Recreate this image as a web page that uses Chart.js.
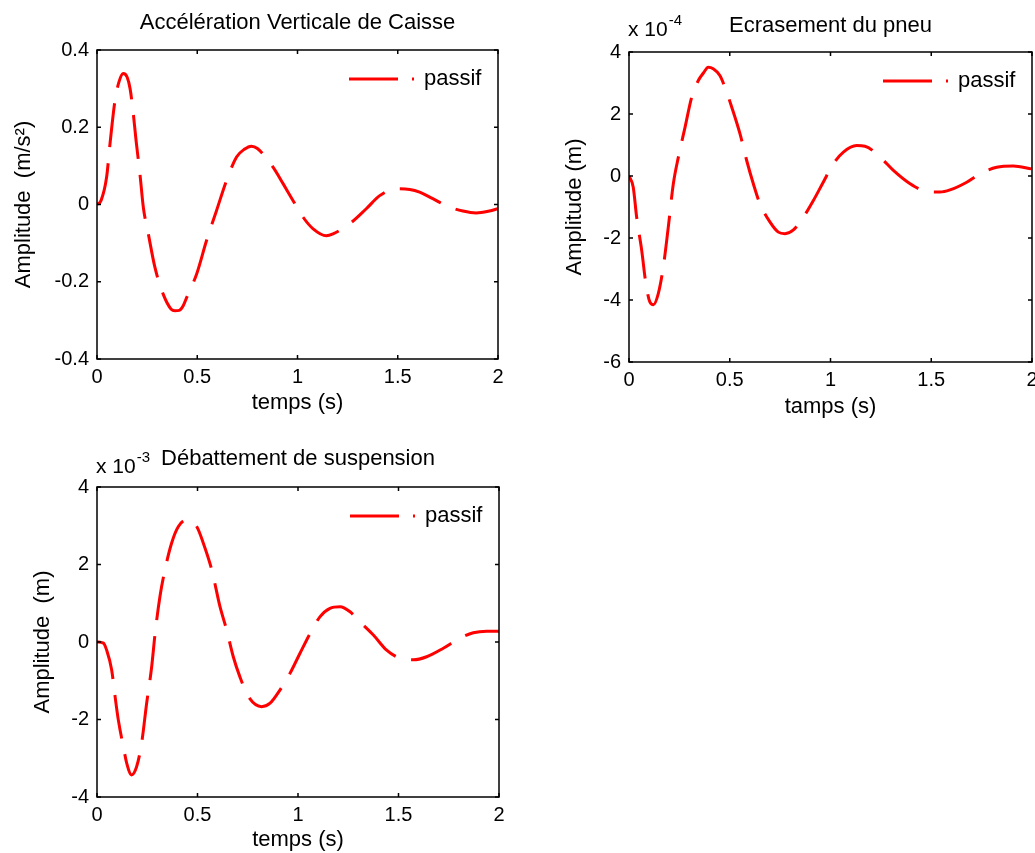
<!DOCTYPE html>
<html>
<head>
<meta charset="utf-8">
<script src="https://cdn.jsdelivr.net/npm/chart.js@4.4.1/dist/chart.umd.min.js"></script>
<style>
  body { margin: 0; background: #fff; }
  .wrap { position: relative; width: 1035px; height: 853px; overflow: hidden; }
  canvas { position: absolute; }
</style>
</head>
<body>
<div class="wrap">
  <canvas id="accel" width="520" height="425" style="left:0;top:0"></canvas>
  <canvas id="pneu" width="495" height="425" style="left:540px;top:0"></canvas>
  <canvas id="susp" width="520" height="423" style="left:0;top:430px"></canvas>
</div>
<script>
// graduations
const xTicks = [0, 0.5, 1, 1.5, 2];
const yTicksAccel = [-0.4, -0.2, 0, 0.2, 0.4];
const yTicksPneu = [-6, -4, -2, 0, 2, 4];
const yTicksSusp = [-4, -2, 0, 2, 4];

// accélération verticale de caisse (m/s2)
const tAccel = [0, 0.02, 0.048, 0.065, 0.09, 0.11, 0.131, 0.15, 0.165, 0.18, 0.195, 0.214, 0.231, 0.256, 0.289, 0.33, 0.37, 0.389, 0.41, 0.43, 0.447,
  0.497, 0.546, 0.596, 0.646, 0.696, 0.735, 0.77, 0.8, 0.878, 0.928, 0.978, 1.028, 1.078, 1.144, 1.177, 1.26, 1.343, 1.41, 1.493, 1.56,
  1.609, 1.675, 1.75, 1.825, 1.891, 1.957, 2.0];
const accel = [0, 0.01, 0.071, 0.158, 0.27, 0.318, 0.339, 0.33, 0.30, 0.24, 0.165, 0.08, -0.007, -0.076, -0.163, -0.232, -0.271, -0.275, -0.274, -0.262, -0.241,
  -0.18, -0.094, -0.016, 0.062, 0.123, 0.143, 0.151, 0.145, 0.097, 0.054, 0.010, -0.033, -0.063, -0.081, -0.076, -0.05, -0.011, 0.023, 0.041, 0.039,
  0.032, 0.015, -0.005, -0.017, -0.022, -0.017, -0.011];

// écrasement du pneu (x 1e-4 m)
const tPneu = [0, 0.021, 0.038, 0.063, 0.084, 0.104, 0.121, 0.145, 0.17, 0.195, 0.22, 0.245, 0.278, 0.311, 0.344, 0.37, 0.393, 0.418, 0.451, 0.476, 0.51,
  0.551, 0.584, 0.617, 0.65, 0.7, 0.741, 0.774, 0.816, 0.865, 0.915, 0.964, 1.014, 1.064, 1.13, 1.171, 1.246, 1.312, 1.395, 1.477, 1.543,
  1.593, 1.676, 1.742, 1.825, 1.907, 1.998];
const pneu = [0, -0.36, -1.33, -2.40, -3.48, -4.07, -4.15, -3.80, -2.94, -1.65, -0.25, 0.61, 1.57, 2.54, 3.08, 3.33, 3.51, 3.46, 3.24, 2.86, 2.22,
  1.36, 0.50, -0.25, -0.90, -1.49, -1.81, -1.86, -1.74, -1.33, -0.79, -0.20, 0.39, 0.77, 0.98, 0.96, 0.61, 0.18, -0.25, -0.50, -0.52,
  -0.45, -0.20, 0.07, 0.28, 0.32, 0.23];

// débattement de suspension (x 1e-3 m)
const tSusp = [0, 0.032, 0.048, 0.073, 0.09, 0.106, 0.131, 0.148, 0.172, 0.197, 0.222, 0.247, 0.272, 0.289, 0.313, 0.338, 0.371, 0.405, 0.446, 0.496,
  0.529, 0.571, 0.612, 0.645, 0.678, 0.711, 0.753, 0.819, 0.861, 0.91, 0.96, 1.01, 1.06, 1.109, 1.159, 1.209, 1.259, 1.308, 1.375, 1.441,
  1.507, 1.574, 1.64, 1.723, 1.806, 1.872, 1.939, 2.0];
const susp = [0, -0.03, -0.21, -0.72, -1.41, -2.01, -2.7, -3.13, -3.43, -3.22, -2.61, -1.58, -0.64, 0.22, 1.17, 1.86, 2.55, 2.98, 3.15, 2.98,
  2.55, 1.86, 0.91, 0.31, -0.38, -0.9, -1.41, -1.67, -1.58, -1.24, -0.81, -0.29, 0.22, 0.65, 0.87, 0.91, 0.78, 0.52, 0.18, -0.21,
  -0.42, -0.46, -0.38, -0.16, 0.1, 0.24, 0.28, 0.28];

const FONT = "'Liberation Sans', Arial, sans-serif";
Chart.defaults.font.family = FONT;
Chart.defaults.font.size = 20;
Chart.defaults.color = '#000';

// cadre, graduations internes, titre, exposant et légende (style matlab)
const frame = {
  id: 'frame',
  afterDraw(chart, args, opts) {
    const { ctx, chartArea: a, scales: { x, y } } = chart;
    ctx.save();
    ctx.strokeStyle = '#000';
    ctx.lineWidth = 1.5;
    ctx.setLineDash([]);
    ctx.strokeRect(a.left, a.top, a.right - a.left, a.bottom - a.top);
    ctx.beginPath();
    x.ticks.forEach(t => {
      const px = x.getPixelForValue(t.value);
      ctx.moveTo(px, a.bottom); ctx.lineTo(px, a.bottom - 4);
      ctx.moveTo(px, a.top); ctx.lineTo(px, a.top + 4);
    });
    y.ticks.forEach(t => {
      const py = y.getPixelForValue(t.value);
      ctx.moveTo(a.left, py); ctx.lineTo(a.left + 4, py);
      ctx.moveTo(a.right, py); ctx.lineTo(a.right - 4, py);
    });
    ctx.stroke();

    ctx.fillStyle = '#000';
    ctx.font = '22px ' + FONT;
    ctx.textAlign = 'center';
    ctx.textBaseline = 'alphabetic';
    ctx.fillText(opts.title, (a.left + a.right) / 2, a.top - opts.titleGap);

    if (opts.expo) {
      ctx.textAlign = 'left';
      const ex = a.left - 1, ey = a.top - opts.expoGap;
      ctx.font = '21px ' + FONT;
      ctx.fillText('x 10', ex, ey);
      const w = ctx.measureText('x 10').width;
      ctx.font = '15px ' + FONT;
      ctx.fillText(opts.expo, ex + w + 1, ey - 11);
    }

    // légende : tiret long + point, sans cadre
    const ds = chart.data.datasets[0];
    const ly = a.top + 29;
    ctx.strokeStyle = ds.borderColor;
    ctx.lineWidth = ds.borderWidth;
    ctx.setLineDash([49, 14, 2, 14]);
    ctx.beginPath();
    ctx.moveTo(a.right - 149, ly);
    ctx.lineTo(a.right - 83, ly);
    ctx.stroke();
    ctx.font = '22px ' + FONT;
    ctx.textAlign = 'left';
    ctx.textBaseline = 'middle';
    ctx.fillText(ds.label, a.right - 74, ly);
    ctx.restore();
  }
};

function makeChart(id, times, values, cfg) {
  const points = times.map((t, i) => ({ x: t, y: values[i] }));
  return new Chart(document.getElementById(id), {
    type: 'line',
    data: {
      datasets: [{
        label: 'passif',
        data: points,
        borderColor: '#ff0000',
        borderWidth: 3,
        borderDash: [44, 16],
        pointRadius: 0,
        cubicInterpolationMode: 'monotone'
      }]
    },
    plugins: [frame],
    options: {
      responsive: false,
      animation: false,
      layout: { padding: { top: cfg.top, right: cfg.right, left: 0, bottom: 0 } },
      plugins: {
        legend: { display: false },
        tooltip: { enabled: false },
        frame: { title: cfg.title, titleGap: cfg.titleGap, expo: cfg.expo, expoGap: cfg.expoGap }
      },
      scales: {
        x: {
          type: 'linear', min: 0, max: 2,
          grid: { display: false, drawTicks: false },
          border: { display: false },
          afterBuildTicks: s => { s.ticks = xTicks.map(v => ({ value: v })); },
          afterFit: s => { s.height = cfg.xh; s.paddingLeft = 0; s.paddingRight = 0; },
          ticks: { padding: 6, maxRotation: 0, callback: v => String(v) },
          title: { display: true, text: cfg.xlabel, font: { size: 22 }, padding: { top: 0, bottom: cfg.xpad } }
        },
        y: {
          type: 'linear', min: cfg.yTicks[0], max: cfg.yTicks[cfg.yTicks.length - 1],
          grid: { display: false, drawTicks: false },
          border: { display: false },
          afterBuildTicks: s => { s.ticks = cfg.yTicks.map(v => ({ value: v })); },
          afterFit: s => { s.width = cfg.yw; s.paddingTop = 0; s.paddingBottom = 0; },
          ticks: { padding: 8, callback: v => String(v) },
          title: { display: true, text: cfg.ylabel, font: { size: 22 }, padding: { top: cfg.ypad, bottom: 0 } }
        }
      }
    }
  });
}

makeChart('accel', tAccel, accel, {
  title: 'Accélération Verticale de Caisse', titleGap: 21,
  xlabel: 'temps (s)', ylabel: 'Amplitude  (m/s²)', yTicks: yTicksAccel,
  top: 50, right: 22, yw: 97, xh: 66, xpad: 9, ypad: 11
});
makeChart('pneu', tPneu, pneu, {
  title: 'Ecrasement du pneu', titleGap: 20, expo: '-4', expoGap: 16,
  xlabel: 'tamps (s)', ylabel: 'Amplitude (m)', yTicks: yTicksPneu,
  top: 52, right: 3, yw: 89, xh: 63, xpad: 5, ypad: 22
});
makeChart('susp', tSusp, susp, {
  title: 'Débattement de suspension', titleGap: 22, expo: '-3', expoGap: 14,
  xlabel: 'temps (s)', ylabel: 'Amplitude  (m)', yTicks: yTicksSusp,
  top: 57, right: 21, yw: 97, xh: 56, xpad: 0, ypad: 30
});
</script>
</body>
</html>
